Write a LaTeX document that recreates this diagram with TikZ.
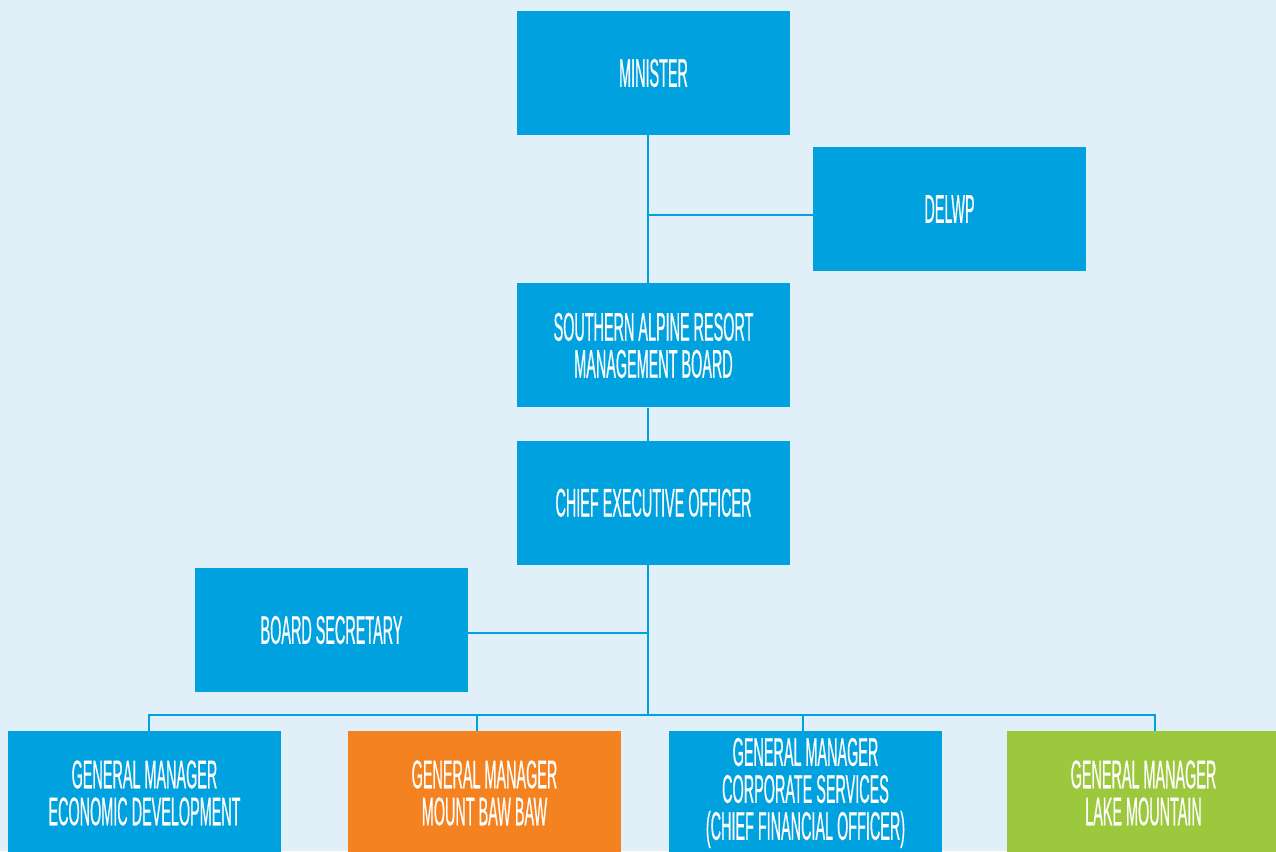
\documentclass[tikz,border=0pt]{standalone}
\usepackage{fontspec}
\usepackage{xcolor}
\usetikzlibrary{positioning}
\newfontfamily\orgfont[FakeStretch=0.36,FakeBold=0.4]{Liberation Sans}
\definecolor{orgblue}{RGB}{0,161,223}
\definecolor{orgbg}{RGB}{225,239,248}
\definecolor{orgorange}{RGB}{245,130,32}
\definecolor{orggreen}{RGB}{155,200,60}

\begin{document}
\begin{tikzpicture}[
  x=1pt, y=-1pt,
  font=\orgfont\fontsize{40}{37}\selectfont, node distance=23pt,
  unit/.style={fill=orgblue, text=white, align=center, inner sep=0pt,
    minimum width=273pt, minimum height=124pt},
  link/.style={draw=orgblue, line width=2pt}
]
\useasboundingbox[fill=orgbg] (0,0) rectangle (1276,851);
\clip (0,0) rectangle (1276,851);
\node[unit] (minister) at (653.5,73) {MINISTER};
\node[unit, below=148pt of minister] (sarmb) {SOUTHERN ALPINE RESORT\\MANAGEMENT BOARD};
\node[unit, below=33pt of sarmb] (ceo) {CHIEF EXECUTIVE OFFICER};
\node[unit] (delwp) at (949.5,209) {DELWP};
\node[unit] (secretary) at (331.5,630) {BOARD SECRETARY};
\node[unit] (econ) at (144.5,793) {GENERAL MANAGER\\ECONOMIC DEVELOPMENT};
\node[unit, fill=orgorange] (mbb) at (484.5,793) {GENERAL MANAGER\\MOUNT BAW BAW};
\node[unit] (corp) at (805.5,793) {GENERAL MANAGER\\CORPORATE SERVICES\\(CHIEF FINANCIAL OFFICER)};
\node[unit, fill=orggreen] (lake) at (1143.5,793) {GENERAL MANAGER\\LAKE MOUNTAIN};
% spine and bus
\coordinate (spine) at (648,0);
\coordinate (bus) at (0,715);
\draw[link] (minister.south -| spine) -- (sarmb.north -| spine);
\draw[link] (sarmb.south -| spine) -- (ceo.north -| spine);
\draw[link] ([yshift=-6pt]delwp.west) -- ([yshift=-6pt]delwp.west -| spine);
\draw[link] (ceo.south -| spine) -- (bus -| spine);
\draw[link] ([yshift=-3pt]secretary.east) -- ([yshift=-3pt]secretary.east -| spine);
\draw[link] (econ.north -| 149,0) |- (bus -| 1155,0) -- (lake.north -| 1155,0);
\draw[link] (mbb.north -| 477,0) -- (bus -| 477,0);
\draw[link] (corp.north -| 803,0) -- (bus -| 803,0);
\end{tikzpicture}
\end{document}
